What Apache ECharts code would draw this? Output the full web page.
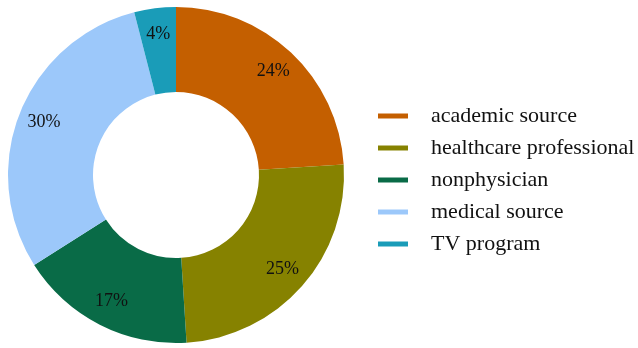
<!DOCTYPE html>
<html>
<head>
<meta charset="utf-8">
<script src="https://cdn.jsdelivr.net/npm/echarts@6/dist/echarts.min.js"></script>
<style>
html, body { margin: 0; padding: 0; background: #fff; }
#main { width: 638px; height: 348px; }
</style>
</head>
<body>
<div id="main"></div>
<script>
// source of information
var categories = ['academic source', 'healthcare professional', 'nonphysician', 'medical source', 'TV program'];
var shares = [24, 25, 17, 30, 4];
var colors = ['#C45F00', '#868200', '#096B47', '#9CC8FA', '#1A9CB8'];

var data = [];
for (var i = 0; i < categories.length; i++) {
	data.push({ name: categories[i], value: shares[i] });
}

var myChart = echarts.init(document.getElementById('main'));
var option = {
	animation: false,
	color: colors,
	legend: {
		orient: 'vertical',
		left: 373,
		top: 100,
		icon: 'rect',
		itemWidth: 30,
		itemHeight: 5,
		itemGap: 10,
		data: categories,
		textStyle: {
			fontFamily: 'Liberation Serif',
			fontSize: 22,
			color: '#111',
			lineHeight: 22,
			padding: [0, 0, 0, 18]
		}
	},
	series: [{
		type: 'pie',
		center: [176, 175],
		radius: [83, 168],
		startAngle: 90,
		clockwise: true,
		silent: true,
		label: { show: false },
		labelLine: { show: false },
		data: data
	}, {
		// label ring, pushed a little outward like the original
		type: 'pie',
		center: [176, 175],
		radius: [110, 168],
		startAngle: 90,
		clockwise: true,
		silent: true,
		itemStyle: { color: 'rgba(0,0,0,0)' },
		label: {
			show: true,
			position: 'inside',
			formatter: '{c}%',
			fontFamily: 'Liberation Serif',
			fontSize: 18,
			color: '#111'
		},
		labelLine: { show: false },
		data: data
	}]
};
myChart.setOption(option);
</script>
</body>
</html>
